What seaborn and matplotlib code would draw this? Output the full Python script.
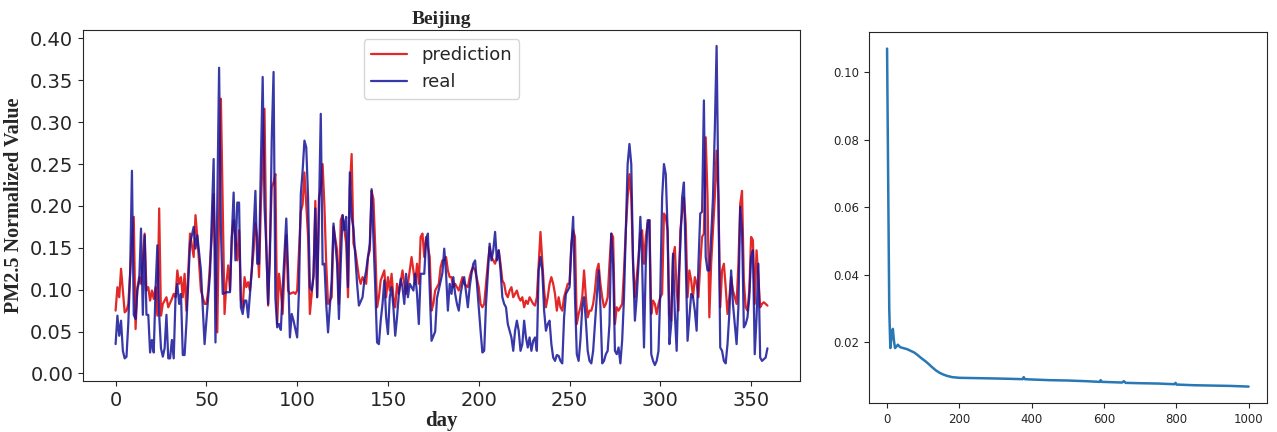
import numpy as np
import pandas as pd
import matplotlib
matplotlib.use("Agg")
import matplotlib.pyplot as plt
import seaborn as sns

# real PM2.5 (normalized), key points
real_days = [0, 1, 2, 3, 4, 5, 6, 7, 8, 9, 10, 11, 12, 13, 14, 15, 16, 17, 18, 19, 20, 21, 22, 23, 24, 25, 26, 27, 28, 29,
             30, 31, 32, 33, 34, 35, 36, 37, 38, 39, 41, 43, 44, 45, 47, 49, 50, 52, 54, 55, 57, 58, 59, 61, 63, 64, 65, 66, 67, 68,
             69, 70, 71, 72, 73, 75, 76, 77, 78, 79, 80, 81, 82, 83, 84, 85, 86, 87, 88, 89, 90, 91, 92, 94, 95, 96, 97, 98, 100, 101,
             102, 103, 104, 105, 106, 107, 108, 109, 110, 111, 112, 113, 114, 115, 116, 117, 119, 120, 122, 123, 124, 125, 126, 127, 128, 129, 130, 131, 132, 133,
             134, 136, 137, 138, 140, 141, 142, 143, 144, 145, 146, 147, 148, 149, 150, 151, 152, 153, 154, 155, 156, 157, 158, 159, 160, 161, 162, 164, 165, 166,
             167, 168, 170, 171, 172, 173, 174, 176, 177, 178, 179, 180, 181, 182, 183, 184, 185, 186, 187, 188, 189, 190, 191, 192, 194, 195, 196, 197, 198, 199,
             200, 201, 202, 203, 204, 205, 206, 207, 208, 209, 210, 211, 212, 213, 214, 215, 216, 217, 218, 219, 220, 221, 222, 223, 224, 225, 226, 227, 228, 229,
             230, 231, 232, 233, 234, 235, 236, 237, 238, 239, 240, 241, 242, 243, 244, 245, 246, 247, 248, 249, 250, 251, 252, 253, 254, 255, 256, 257, 258, 259,
             260, 261, 262, 263, 264, 265, 266, 267, 268, 269, 270, 271, 272, 273, 274, 275, 276, 277, 278, 279, 280, 281, 282, 283, 284, 285, 286, 287, 288, 289,
             290, 291, 292, 293, 294, 295, 296, 297, 298, 299, 300, 301, 302, 303, 304, 305, 306, 307, 308, 309, 310, 311, 312, 313, 314, 315, 316, 317, 318, 319,
             320, 321, 322, 323, 324, 325, 326, 327, 328, 329, 330, 331, 332, 333, 334, 335, 336, 337, 338, 339, 340, 341, 342, 343, 344, 345, 346, 347, 348, 349,
             350, 351, 352, 353, 354, 355, 356, 357, 358, 359]
real_vals = [.035, .069, .045, .063, .027, .018, .020, .060, .120, .242, .070, .065, .100, .110, .173, .070, .165, .070, .070, .025, .040, .025, .100, .153, .070, .030, .020, .030, .070, .018,
             .018, .040, .018, .090, .107, .083, .095, .022, .022, .060, .155, .175, .149, .165, .123, .035, .063, .119, .256, .037, .365, .171, .095, .097, .097, .163, .216, .135, .204, .204,
             .079, .071, .087, .087, .067, .123, .171, .218, .131, .131, .250, .354, .200, .151, .083, .140, .280, .360, .090, .055, .059, .052, .100, .185, .123, .043, .071, .063, .043, .100,
             .214, .242, .278, .270, .210, .103, .099, .115, .197, .091, .193, .310, .130, .131, .083, .049, .111, .179, .131, .065, .131, .189, .171, .187, .103, .240, .187, .173, .139, .107,
             .081, .091, .111, .123, .155, .220, .163, .103, .037, .035, .063, .083, .111, .067, .047, .091, .103, .079, .045, .067, .095, .113, .103, .083, .119, .091, .107, .099, .119, .095,
             .059, .119, .119, .159, .167, .100, .039, .050, .090, .100, .110, .120, .149, .119, .075, .107, .095, .115, .095, .083, .075, .095, .107, .115, .079, .103, .119, .131, .135, .107,
             .079, .051, .025, .027, .083, .119, .155, .135, .147, .169, .135, .147, .123, .091, .083, .079, .059, .051, .043, .027, .051, .063, .051, .027, .035, .063, .043, .031, .043, .027,
             .039, .043, .027, .123, .139, .123, .075, .051, .059, .063, .035, .019, .015, .022, .021, .015, .012, .067, .095, .099, .103, .151, .187, .091, .023, .015, .040, .079, .091, .063,
             .027, .015, .012, .027, .059, .091, .123, .080, .012, .015, .023, .027, .059, .167, .131, .027, .023, .031, .012, .040, .091, .171, .250, .274, .250, .131, .063, .091, .131, .187,
             .131, .031, .131, .183, .183, .023, .015, .010, .015, .027, .099, .210, .250, .238, .171, .035, .059, .143, .071, .027, .111, .151, .210, .228, .131, .039, .067, .095, .091, .075,
             .051, .131, .191, .193, .326, .139, .123, .123, .163, .210, .290, .391, .210, .031, .027, .015, .012, .035, .071, .123, .083, .059, .035, .079, .199, .171, .055, .059, .067, .091,
             .139, .147, .023, .067, .131, .019, .015, .017, .019, .030]

# model prediction, key points
pred_days = [0, 1, 2, 3, 5, 6, 7, 9, 10, 11, 12, 13, 14, 16, 17, 18, 19, 20, 21, 22, 23, 24, 25, 26, 27, 28, 29, 31, 32, 33,
             34, 35, 36, 37, 38, 39, 41, 43, 44, 45, 46, 47, 49, 50, 51, 53, 54, 55, 56, 58, 60, 61, 62, 63, 64, 65, 66, 67, 68, 69,
             70, 71, 72, 73, 74, 76, 77, 78, 79, 80, 82, 83, 84, 85, 86, 87, 88, 89, 90, 91, 92, 93, 94, 95, 96, 98, 99, 100, 102, 103,
             104, 106, 107, 108, 109, 110, 111, 112, 113, 114, 115, 116, 117, 119, 120, 122, 123, 124, 125, 127, 128, 129, 130, 131, 132, 134, 135, 136, 138, 139,
             140, 141, 142, 143, 144, 145, 146, 148, 149, 150, 151, 152, 153, 154, 155, 156, 158, 159, 160, 161, 163, 164, 165, 166, 167, 168, 169, 170, 171, 173,
             174, 175, 176, 178, 179, 180, 181, 182, 183, 184, 185, 186, 187, 189, 190, 191, 192, 194, 195, 196, 197, 198, 200, 201, 202, 203, 204, 205, 206, 207,
             208, 209, 211, 212, 213, 214, 215, 216, 217, 218, 219, 220, 221, 222, 223, 224, 225, 226, 227, 228, 229, 230, 231, 232, 233, 234, 235, 236, 237, 238,
             239, 240, 241, 242, 243, 244, 245, 246, 247, 248, 249, 250, 251, 252, 253, 254, 255, 256, 257, 258, 259, 260, 261, 262, 263, 264, 265, 266, 267, 268,
             269, 270, 271, 272, 273, 274, 275, 276, 277, 278, 279, 280, 281, 282, 283, 284, 285, 286, 287, 288, 289, 290, 291, 292, 293, 294, 295, 296, 297, 298,
             299, 300, 301, 302, 303, 304, 305, 306, 307, 308, 309, 310, 311, 313, 314, 315, 316, 317, 318, 319, 320, 321, 322, 323, 324, 325, 326, 327, 328, 329,
             330, 331, 332, 333, 334, 335, 336, 337, 338, 339, 340, 341, 342, 343, 344, 345, 346, 347, 348, 349, 350, 351, 352, 353, 354, 355, 356, 357, 358, 359]
pred_vals = [.075, .103, .091, .125, .073, .075, .083, .155, .187, .053, .103, .115, .107, .167, .099, .103, .087, .099, .089, .103, .069, .197, .069, .083, .087, .091, .079, .089, .095, .091,
             .123, .107, .115, .091, .119, .075, .167, .139, .189, .163, .131, .099, .083, .083, .099, .163, .214, .131, .049, .328, .071, .107, .129, .099, .163, .183, .163, .135, .171, .087,
             .079, .115, .103, .109, .099, .147, .179, .163, .115, .200, .316, .151, .081, .155, .222, .228, .238, .059, .119, .099, .071, .123, .165, .099, .095, .097, .095, .099, .193, .202,
             .240, .163, .071, .095, .119, .206, .091, .210, .220, .250, .200, .131, .083, .091, .175, .147, .083, .183, .189, .155, .091, .222, .262, .155, .147, .115, .107, .115, .107, .139,
             .147, .218, .208, .151, .079, .091, .111, .123, .091, .115, .099, .119, .091, .079, .107, .095, .123, .107, .095, .107, .139, .123, .107, .131, .107, .163, .167, .139, .163, .139,
             .075, .083, .099, .107, .127, .135, .135, .139, .123, .115, .115, .103, .107, .099, .107, .115, .107, .103, .115, .123, .127, .123, .103, .083, .079, .083, .107, .131, .151, .139,
             .135, .131, .147, .131, .111, .107, .095, .091, .099, .103, .091, .095, .099, .091, .087, .091, .079, .087, .083, .091, .087, .083, .081, .091, .131, .169, .135, .099, .079, .091,
             .107, .115, .107, .095, .075, .091, .079, .075, .091, .099, .107, .107, .155, .171, .163, .059, .071, .079, .091, .123, .091, .067, .075, .075, .083, .099, .123, .131, .107, .091,
             .079, .083, .091, .131, .167, .163, .059, .079, .075, .079, .083, .123, .171, .210, .238, .210, .131, .091, .115, .139, .167, .171, .131, .163, .179, .183, .071, .087, .083, .071,
             .083, .091, .095, .191, .187, .171, .071, .063, .139, .151, .099, .075, .171, .210, .179, .091, .123, .111, .091, .115, .107, .091, .131, .163, .167, .282, .210, .067, .131, .171,
             .210, .266, .210, .079, .123, .131, .103, .071, .091, .115, .099, .091, .083, .131, .202, .218, .111, .079, .075, .099, .163, .159, .083, .147, .115, .079, .083, .085, .083, .081]

# training loss curve, key points
loss_epochs = [0, 6, 9, 12, 16, 19, 22, 26, 30, 34, 38, 45, 55, 65, 75, 85, 95, 105, 115, 125, 135, 145, 155, 165, 180,
               200, 250, 300, 340, 375, 378, 381, 400, 450, 500, 550, 588, 591, 594, 650, 655, 660, 700, 750, 795, 798, 801,
               850, 900, 950, 1000]
loss_vals = [0.107, 0.030, 0.0183, 0.0215, 0.0240, 0.0205, 0.0183, 0.0188, 0.0193, 0.0188, 0.0185, 0.0183, 0.0180, 0.0175,
             0.0170, 0.0162, 0.0153, 0.0145, 0.0136, 0.0126, 0.0117, 0.0110, 0.0105, 0.0101, 0.0097,
             0.0095, 0.0094, 0.0093, 0.0092, 0.0091, 0.0097, 0.0091, 0.0090, 0.0088, 0.0087, 0.0085, 0.0083, 0.0088, 0.0083,
             0.0081, 0.0085, 0.0080, 0.0079, 0.0078, 0.0076, 0.0080, 0.0075, 0.0073, 0.0072, 0.0071, 0.0069]

sns.set_style("ticks")
plt.rcParams['font.family'] = ['DejaVu Sans']

serif = ['Liberation Serif', 'DejaVu Serif']

fig = plt.figure(figsize=(12.77, 4.32), dpi=100)

# left: prediction vs real
ax = fig.add_axes([0.065, 0.118, 0.5615, 0.8125])
pred_df = pd.DataFrame({'day': pred_days, 'value': pred_vals})
real_df = pd.DataFrame({'day': real_days, 'value': real_vals})
sns.lineplot(data=pred_df, x='day', y='value', ax=ax, color='#e01010', alpha=0.9,
             linewidth=1.6, label='prediction', estimator=None)
sns.lineplot(data=real_df, x='day', y='value', ax=ax, color='#15159a', alpha=0.85,
             linewidth=1.6, label='real', estimator=None)
ax.set_xticks(np.arange(0, 351, 50))
ax.set_yticks(np.arange(0, 0.41, 0.05))
ax.yaxis.set_major_formatter(matplotlib.ticker.FormatStrFormatter('%.2f'))
ax.tick_params(labelsize=14)
ax.set_xlabel('day', fontfamily=serif, fontweight='bold', fontsize=15, labelpad=1)
ax.set_ylabel('PM2.5 Normalized Value', fontfamily=serif, fontweight='bold', fontsize=14.5, labelpad=4)
ax.set_title('Beijing', fontfamily=serif, fontweight='bold', fontsize=14, pad=4)
ax.legend(loc='upper center', fontsize=13, frameon=True, handlelength=2)

# right: loss curve
ax2 = fig.add_axes([0.6805, 0.066, 0.3114, 0.8606])
loss_df = pd.DataFrame({'epoch': loss_epochs, 'loss': loss_vals})
sns.lineplot(data=loss_df, x='epoch', y='loss', ax=ax2, color='#2878b5', linewidth=1.8, estimator=None)
ax2.set_xticks(np.arange(0, 1001, 200))
ax2.set_yticks([0.02, 0.04, 0.06, 0.08, 0.10])
ax2.yaxis.set_major_formatter(matplotlib.ticker.FormatStrFormatter('%.2f'))
ax2.tick_params(labelsize=8.5)
ax2.set_xlabel('')
ax2.set_ylabel('')

fig.savefig('out.png', dpi=100)
plt.close(fig)
